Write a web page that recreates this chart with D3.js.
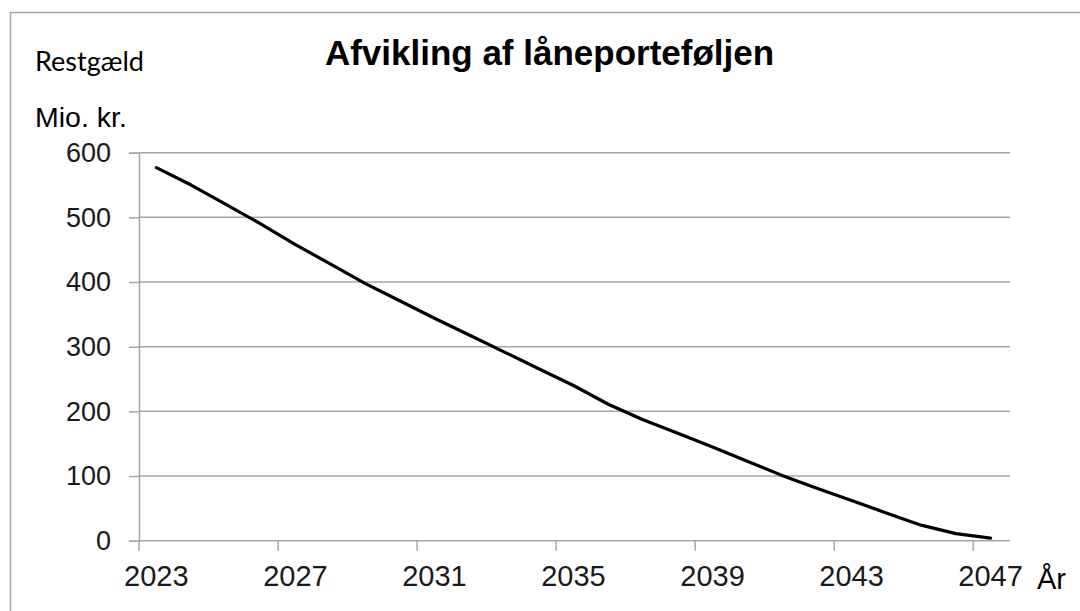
<!DOCTYPE html>
<html><head><meta charset="utf-8">
<script src="https://cdn.jsdelivr.net/npm/d3@7"></script>
<style>html,body{margin:0;padding:0;background:#fff;}svg{display:block;}</style>
</head><body>
<svg id="c" width="1080" height="611"></svg>
<script>
const years = [2023,2024,2025,2026,2027,2028,2029,2030,2031,2032,2033,2034,2035,2036,2037,2038,2039,2040,2041,2042,2043,2044,2045,2046,2047];
const restgaeld = [577,550,520,490,458,428,398,371,344,318,292,266,240,211,187,166,145,123,101,81,62,43,24,11,4];
const yTicks = [0,100,200,300,400,500,600];
const xLabelYears = [2023,2027,2031,2035,2039,2043,2047];
const chartTitle = "Afvikling af låneporteføljen";
const yTitle1 = "Restgæld";
const yTitle2 = "Mio. kr.";
const xTitle = "År";

(function(){
const svg = d3.select("#c");
const grey = "#a6a6a6";
const pLeft = 139, pRight = 1008, pTop = 152.7, pBottom = 540.7;

svg.append("rect").attr("x",10.5).attr("y",12.5).attr("width",1100).attr("height",640)
  .attr("fill","none").attr("stroke",grey).attr("stroke-width",1.5);

const x = d3.scaleBand().domain(years).range([pLeft,pRight]);
const y = d3.scaleLinear().domain([0,600]).range([pBottom,pTop]);

svg.append("g").selectAll("line").data(yTicks.filter(d=>d>0)).join("line")
  .attr("x1",pLeft).attr("x2",pRight+2).attr("y1",d=>y(d)).attr("y2",d=>y(d))
  .attr("stroke",grey).attr("stroke-width",1.5);

const yAxis = svg.append("g").attr("transform",`translate(${pLeft},0)`)
  .call(d3.axisLeft(y).tickValues(yTicks).tickSize(10).tickPadding(18));
yAxis.select(".domain").attr("stroke",grey).attr("stroke-width",1.5);
yAxis.selectAll(".tick line").attr("stroke",grey).attr("stroke-width",1.5);
yAxis.selectAll(".tick text").attr("font-family","Liberation Sans, Arial, sans-serif")
  .attr("font-size",27).attr("fill","#1a1a1a");

svg.append("line").attr("x1",pLeft).attr("x2",pRight+2).attr("y1",pBottom).attr("y2",pBottom)
  .attr("stroke",grey).attr("stroke-width",1.5);
svg.append("g").selectAll("line").data(xLabelYears).join("line")
  .attr("x1",d=>x(d)).attr("x2",d=>x(d)).attr("y1",pBottom).attr("y2",pBottom+10)
  .attr("stroke",grey).attr("stroke-width",1.5);
svg.append("g").selectAll("text").data(xLabelYears).join("text")
  .attr("x",d=>x(d)+x.bandwidth()/2).attr("y",586)
  .attr("text-anchor","middle").attr("font-family","Liberation Sans, Arial, sans-serif")
  .attr("font-size",29).attr("fill","#1a1a1a").text(d=>d);

const line = d3.line().x((d,i)=>x(years[i])+x.bandwidth()/2).y(d=>y(d));
svg.append("path").datum(restgaeld).attr("d",line).attr("fill","none")
  .attr("stroke","#000").attr("stroke-width",3.2).attr("stroke-linejoin","round").attr("stroke-linecap","round");

svg.append("text").attr("x",549.5).attr("y",65).attr("text-anchor","middle")
  .attr("font-family","Liberation Sans, Arial, sans-serif").attr("font-weight","bold")
  .attr("font-size",35).attr("fill","#000").text(chartTitle);
svg.append("text").attr("x",35).attr("y",70.5)
  .attr("font-family","Lato, 'Open Sans', sans-serif").attr("font-size",27).attr("fill","#000").text(yTitle1);
svg.append("text").attr("x",35).attr("y",126.5)
  .attr("font-family","Liberation Sans, Arial, sans-serif").attr("font-size",28.5).attr("fill","#000").text(yTitle2);
svg.append("text").attr("x",1037).attr("y",589)
  .attr("font-family","Liberation Sans, Arial, sans-serif").attr("font-size",29).attr("fill","#000").text(xTitle);
})();
</script>
</body></html>
